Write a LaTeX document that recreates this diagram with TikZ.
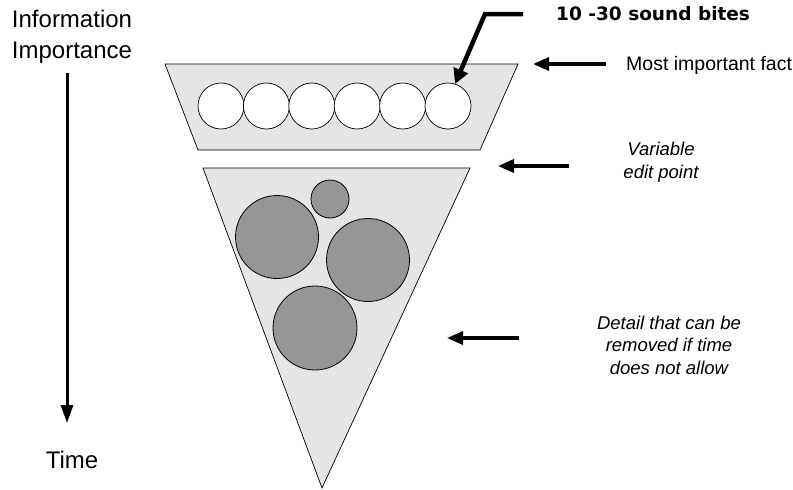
\documentclass[tikz,border=0pt]{standalone}
\usepackage{fontspec}
\setmainfont{Liberation Sans}
\newfontfamily\bitesfont{DejaVu Sans}
\usetikzlibrary{arrows.meta,positioning}

\begin{document}
\begin{tikzpicture}[x=1pt, y=-1pt,
  slab/.style={draw, fill=black!10, line width=0.7pt},
  bite/.style={circle, draw, fill=white, inner sep=0pt, minimum size=46pt, line width=0.7pt},
  detail/.style={circle, draw, fill=black!41, inner sep=0pt, line width=0.8pt},
  note/.style={align=center, inner sep=0pt, font=\fontsize{18.5}{22.5}\selectfont\itshape},
  axis/.style={align=center, inner sep=0pt, font=\fontsize{24}{31}\selectfont},
  arr/.style={line width=3.5pt, -{Triangle[length=16pt, width=13pt]}}
]
\useasboundingbox (0,0) rectangle (793,490);

% time axis
\node[axis] (importance) at (72,37) {Information\\Importance};
\node[axis] (time) at (72,460) {Time};
\draw[line width=3pt, -{Triangle[length=18pt, width=12pt]}] (67,73) coordinate (axisTop) -- (67,423) coordinate (axisEnd);

% top part
\draw[slab] (165,64) -- (518,64) -- (480,150) -- (198,150) -- cycle;
\foreach \i in {0,...,5}
  \node[bite] (b\i) at (221+45.4*\i, 106) {};

% bottom part
\draw[slab] (203,168) -- (470,168) -- (322,488) -- cycle;
\node[detail, minimum size=38pt] (small) at (330,199) {};
\node[detail, minimum size=83pt] (left) at (277,237) {};
\node[detail, minimum size=83pt] (right) at (368,260) {};
\node[detail, minimum size=84pt] (low) at (315,328) {};

% labels
\node[anchor=west, inner sep=0pt, font=\bitesfont\bfseries\fontsize{18.5}{20}\selectfont] (bites) at (556,14) {10 -30 sound bites};
\node[anchor=west, inner sep=0pt, font=\fontsize{19.5}{22}\selectfont] (most) at (626,65) {Most important fact};
\node[note] (edit) at (661,162) {Variable\\edit point};
\node[note] (cut) at (669,345) {Detail that can be\\removed if time\\does not allow};

% arrows
\coordinate (bitesTail) at (523,14);
\coordinate (bitesTip) at (455,84);
\draw[line width=4.5pt, miter limit=10, -{Triangle[length=15pt, width=15pt]}] (bitesTail) -- (485,14) -- (bitesTip);
\draw[arr] (606,64) coordinate (mostTail) -- (533,64) coordinate (mostTip);
\draw[arr] (569,166) coordinate (editTail) -- (498,166) coordinate (editTip);
\draw[arr] (519,338) coordinate (cutTail) -- (447,338) coordinate (cutTip);
\end{tikzpicture}
\end{document}
